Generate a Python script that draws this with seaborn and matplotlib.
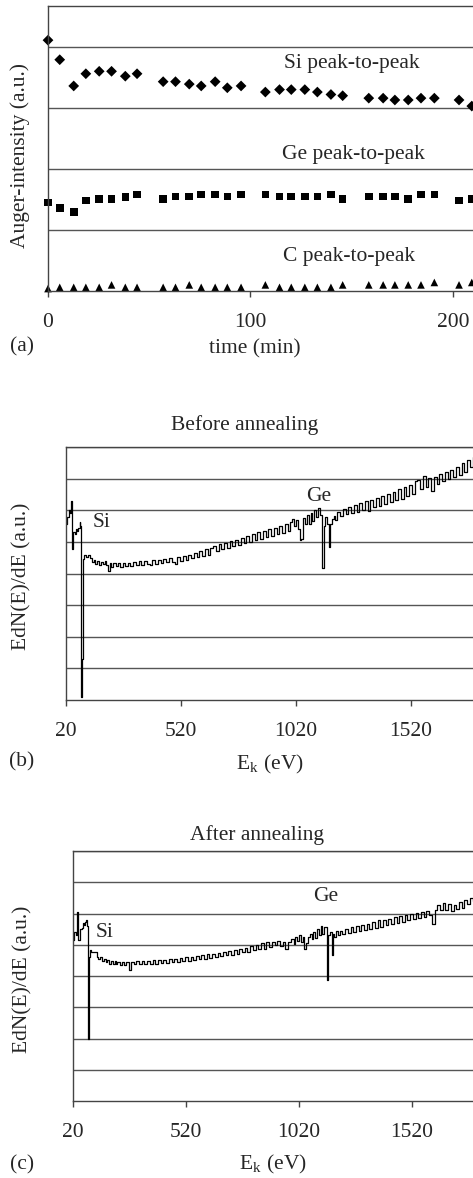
import numpy as np
import pandas as pd
import matplotlib
matplotlib.use('Agg')
import matplotlib.pyplot as plt
import seaborn as sns

# panel (a): Auger peak-to-peak intensities vs time (arbitrary units)
time_min = [0, 5.8, 12.7, 18.7, 25.3, 31.4, 38.2, 44.0, 56.9, 63.0,
            69.8, 75.7, 82.6, 88.6, 95.4, 107.4, 114.4, 120.2, 126.9, 133.1,
            139.8, 145.6, 158.5, 165.6, 171.4, 178.0, 184.3, 190.9, 203.1, 209.4]
si_pp = [4.11, 3.79, 3.36, 3.56, 3.60, 3.60, 3.52, 3.56, 3.43, 3.43,
         3.39, 3.36, 3.43, 3.33, 3.36, 3.26, 3.30, 3.30, 3.30, 3.26,
         3.22, 3.20, 3.16, 3.16, 3.13, 3.13, 3.16, 3.16, 3.13, 3.03]
ge_pp = [1.45, 1.36, 1.29, 1.48, 1.51, 1.51, 1.54, 1.58, 1.51, 1.55,
         1.55, 1.58, 1.58, 1.55, 1.58, 1.58, 1.55, 1.55, 1.55, 1.55,
         1.58, 1.51, 1.55, 1.55, 1.55, 1.51, 1.58, 1.58, 1.48, 1.51]
c_pp = [0.04, 0.06, 0.06, 0.06, 0.06, 0.10, 0.06, 0.06, 0.06, 0.06,
        0.10, 0.06, 0.06, 0.06, 0.06, 0.10, 0.06, 0.06, 0.06, 0.06,
        0.06, 0.10, 0.10, 0.10, 0.10, 0.10, 0.10, 0.14, 0.10, 0.14]

# panels (b), (c): Auger spectra EdN(E)/dE
energy = [20, 26, 32, 37, 41, 44, 52, 58, 63, 68,
          74, 79, 83, 87, 89, 92, 95, 100, 108, 116,
          124, 132, 140, 148, 156, 164, 172, 180, 188, 196,
          204, 210, 216, 226, 236, 246, 256, 266, 276, 288,
          300, 312, 324, 336, 348, 360, 372, 384, 396, 408,
          420, 432, 444, 456, 468, 480, 492, 504, 516, 528,
          540, 552, 564, 576, 588, 600, 612, 624, 636, 648,
          660, 672, 684, 696, 708, 720, 732, 744, 756, 768,
          780, 792, 804, 816, 828, 840, 852, 864, 876, 888,
          900, 912, 924, 936, 948, 960, 972, 984, 996, 1004,
          1012, 1020, 1028, 1036, 1044, 1052, 1060, 1068, 1076, 1084,
          1092, 1100, 1108, 1116, 1124, 1132, 1142, 1148, 1156, 1164,
          1170, 1176, 1184, 1192, 1200, 1212, 1224, 1236, 1248, 1260,
          1272, 1284, 1296, 1308, 1320, 1332, 1344, 1356, 1368, 1380,
          1392, 1404, 1416, 1428, 1440, 1452, 1464, 1476, 1488, 1500,
          1512, 1524, 1536, 1548, 1560, 1572, 1584, 1596, 1608, 1620,
          1632, 1644, 1656, 1668, 1680, 1692, 1704, 1716, 1728, 1740,
          1752, 1764, 1776, 1788, 1800]
before = [5.55, 5.80, 6.00, 5.90, 6.30, 4.77, 5.30, 5.25, 5.40, 5.35,
          5.45, 5.62, 5.50, 0.10, 1.30, 2.90, 4.45, 4.60, 4.52, 4.58,
          4.48, 4.36, 4.42, 4.30, 4.40, 4.28, 4.36, 4.30, 4.38, 4.28,
          4.08, 4.32, 4.22, 4.34, 4.24, 4.32, 4.22, 4.33, 4.24, 4.34,
          4.24, 4.36, 4.26, 4.38, 4.27, 4.40, 4.30, 4.26, 4.42, 4.30,
          4.44, 4.32, 4.46, 4.35, 4.49, 4.36, 4.30, 4.52, 4.40, 4.55,
          4.42, 4.60, 4.48, 4.66, 4.52, 4.70, 4.55, 4.76, 4.60, 4.80,
          4.86, 4.70, 4.92, 4.76, 4.96, 4.82, 5.02, 4.86, 5.06, 4.90,
          5.12, 4.96, 5.18, 5.00, 5.25, 5.05, 5.30, 5.10, 5.35, 5.14,
          5.40, 5.20, 5.45, 5.24, 5.50, 5.28, 5.55, 5.33, 5.62, 5.72,
          5.50, 5.68, 5.40, 5.06, 5.10, 5.75, 5.58, 5.85, 5.56, 5.90,
          5.66, 6.00, 5.80, 6.08, 5.86, 4.17, 5.50, 5.78, 5.55, 4.85,
          5.55, 5.72, 5.82, 5.70, 5.95, 5.82, 6.05, 5.88, 6.10, 5.92,
          6.16, 5.96, 6.22, 6.00, 6.28, 5.98, 6.32, 6.10, 6.38, 6.14,
          6.45, 6.20, 6.52, 6.26, 6.58, 6.32, 6.66, 6.36, 6.72, 6.44,
          6.80, 6.52, 6.92, 6.95, 6.66, 7.08, 6.72, 7.02, 6.60, 7.05,
          6.84, 7.15, 6.92, 7.22, 6.98, 7.28, 7.04, 7.38, 7.12, 7.48,
          7.22, 7.58, 7.36, 7.68, 7.60]
after = [5.15, 5.40, 5.30, 6.06, 5.15, 5.15, 5.52, 5.55, 5.70, 5.62,
         5.72, 5.78, 5.60, 2.00, 3.45, 4.60, 4.83, 4.78, 4.78, 4.78,
         4.62, 4.55, 4.60, 4.48, 4.55, 4.44, 4.52, 4.40, 4.48, 4.40,
         4.47, 4.38, 4.46, 4.36, 4.46, 4.36, 4.45, 4.19, 4.44, 4.38,
         4.47, 4.38, 4.48, 4.39, 4.48, 4.40, 4.50, 4.40, 4.50, 4.42,
         4.52, 4.42, 4.54, 4.44, 4.56, 4.46, 4.58, 4.47, 4.60, 4.49,
         4.61, 4.51, 4.63, 4.53, 4.66, 4.55, 4.69, 4.57, 4.72, 4.60,
         4.74, 4.63, 4.77, 4.66, 4.80, 4.68, 4.84, 4.72, 4.87, 4.76,
         4.90, 4.78, 4.95, 4.82, 4.98, 4.85, 5.06, 4.88, 5.10, 4.94,
         5.08, 4.98, 5.12, 4.96, 5.10, 4.86, 5.10, 5.18, 5.04, 5.25,
         5.12, 5.32, 5.10, 5.26, 4.85, 5.05, 5.24, 5.36, 5.18, 5.42,
         5.22, 5.50, 5.30, 5.60, 5.36, 5.58, 3.87, 5.30, 5.40, 4.66,
         5.36, 5.25, 5.45, 5.30, 5.44, 5.34, 5.52, 5.38, 5.56, 5.42,
         5.60, 5.44, 5.64, 5.48, 5.68, 5.52, 5.72, 5.55, 5.78, 5.58,
         5.80, 5.62, 5.84, 5.66, 5.88, 5.70, 5.92, 5.74, 5.96, 5.78,
         5.98, 5.82, 6.02, 5.86, 6.06, 5.90, 6.08, 5.96, 5.68, 6.12,
         6.28, 6.10, 6.34, 6.12, 6.30, 6.08, 6.28, 6.14, 6.36, 6.18,
         6.42, 6.30, 6.50, 6.40, 6.55]
e_ticks = [20, 520, 1020, 1520]

# long format for seaborn
df_a = pd.DataFrame({
    'time': time_min * 3,
    'intensity': si_pp + ge_pp + c_pp,
    'peak': ['Si'] * len(si_pp) + ['Ge'] * len(ge_pp) + ['C'] * len(c_pp),
})

sns.set_theme(style='white')
plt.rcParams['font.family'] = ['Liberation Serif', 'DejaVu Serif']
plt.rcParams['mathtext.fontset'] = 'stix'
FS = 15.5
GRID = '#555555'

W, H = 473, 1178
fig = plt.figure(figsize=(W / 100, H / 100), dpi=100)


def frame(ax, ymax):
    ax.set_ylim(0, ymax)
    ax.set_yticks(range(1, int(ymax) + 1))
    ax.set_yticklabels([])
    ax.yaxis.grid(True, color=GRID, lw=1)
    ax.xaxis.grid(False)
    ax.spines['right'].set_visible(False)
    for s in ['left', 'top', 'bottom']:
        ax.spines[s].set_color('#444444')
        ax.spines[s].set_linewidth(1)
    ax.tick_params(axis='x', bottom=True, direction='out', length=4, width=1,
                   color='#444444', labelsize=FS, pad=12)
    ax.tick_params(axis='y', left=False)
    ax.set_axisbelow(True)


# (a)
ax1 = fig.add_axes([48 / W, 1 - 291 / H, (W - 48) / W, 285 / H])
sns.scatterplot(data=df_a, x='time', y='intensity', style='peak',
                markers={'Si': 'D', 'Ge': 's', 'C': '^'}, color='black',
                s=30, linewidth=0, legend=False, ax=ax1, clip_on=False)
frame(ax1, 4.67)
ax1.set_xlim(0, 210)
ax1.set_xticks([0, 100, 200])
ax1.set_xlabel('time (min)', fontsize=FS)
ax1.xaxis.set_label_coords(0.487, -0.17)
ax1.set_ylabel('Auger-intensity (a.u.)', fontsize=FS)
ax1.yaxis.set_label_coords(-0.042, 0.477)
ax1.text(150, 3.73, 'Si peak-to-peak', fontsize=FS, ha='center', va='center')
ax1.text(151, 2.23, 'Ge peak-to-peak', fontsize=FS, ha='center', va='center')
ax1.text(149, 0.56, 'C peak-to-peak', fontsize=FS, ha='center', va='center')
fig.text(22 / W, 1 - 347 / H, '(a)', fontsize=FS, ha='center', va='center')


def spectrum(ax, y, title, si_xy, ge_xy, title_x, title_pad):
    sns.lineplot(x=energy, y=y, ax=ax, color='black', lw=0.9,
                 drawstyle='steps-post', estimator=None, sort=False)
    frame(ax, 8)
    ax.set_xlim(20, 1790)
    ax.set_xticks(e_ticks)
    ax.set_xlabel(r'E$_\mathregular{k}$ (eV)', fontsize=FS)
    ax.set_ylabel('EdN(E)/dE (a.u.)', fontsize=FS)
    ax.set_title(title, fontsize=FS, x=title_x, pad=title_pad)
    ax.text(*si_xy, 'Si', fontsize=FS, ha='center', va='center')
    ax.text(*ge_xy, 'Ge', fontsize=FS, ha='center', va='center')


# (b)
ax2 = fig.add_axes([66 / W, 1 - 700 / H, (W - 66) / W, 253 / H])
spectrum(ax2, before, 'Before annealing', (175, 5.61), (1121, 6.43), 0.44, 12)
ax2.xaxis.set_label_coords(0.50, -0.21)
ax2.yaxis.set_label_coords(-0.084, 0.49)
fig.text(22 / W, 1 - 762 / H, '(b)', fontsize=FS, ha='center', va='center')

# (c)
ax3 = fig.add_axes([73 / W, 1 - 1101 / H, (W - 73) / W, 250 / H])
spectrum(ax3, after, 'After annealing', (158, 5.38), (1137, 6.54), 0.46, 8)
ax3.xaxis.set_label_coords(0.50, -0.208)
ax3.yaxis.set_label_coords(-0.1025, 0.488)
fig.text(22 / W, 1 - 1165 / H, '(c)', fontsize=FS, ha='center', va='center')

fig.savefig('out.png', dpi=100, facecolor='white')
